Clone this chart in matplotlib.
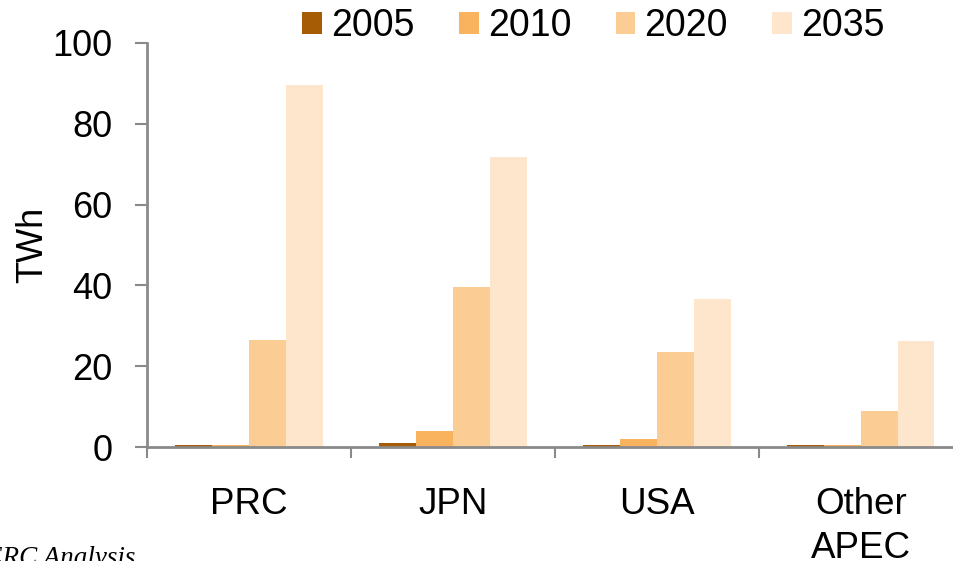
import numpy as np
import matplotlib.pyplot as plt

# data
regions = ["PRC", "JPN", "USA", "Other\nAPEC"]
years = ["2005", "2010", "2020", "2035"]
twh_2005 = [0.5, 1.0, 0.5, 0.5]
twh_2010 = [0.4, 4.0, 2.0, 0.4]
twh_2020 = [26.5, 39.6, 23.5, 8.9]
twh_2035 = [89.6, 71.8, 36.6, 26.2]
colors = ["#A65C05", "#F9B25E", "#FBCD94", "#FDE6CC"]

plt.rcParams['font.family'] = ['Liberation Sans', 'DejaVu Sans']
grey = "#8a8a8a"

fig = plt.figure(figsize=(9.54, 5.61), dpi=100)
ax = fig.add_axes([0.154, 0.2032, 0.855, 0.7202])

x = np.arange(len(regions))
w = 0.181
series = [twh_2005, twh_2010, twh_2020, twh_2035]
for i, (vals, col, yr) in enumerate(zip(series, colors, years)):
    ax.bar(x + (i - 1.5) * w, vals, width=w, color=col, label=yr, zorder=2)

ax.set_xlim(-0.5, 3.5)
ax.set_ylim(0, 100)
ax.set_yticks(range(0, 101, 20))
ax.tick_params(axis='y', labelsize=26, length=8.6, width=1.5, color=grey, pad=16)

# category labels at centres, tick marks at boundaries
ax.set_xticks(x)
ax.set_xticklabels(regions, fontsize=26.5, linespacing=1.33)
ax.tick_params(axis='x', which='major', length=0, pad=29)
ax.set_xticks(np.arange(-0.5, 3.5, 1.0), minor=True)
ax.tick_params(axis='x', which='minor', length=8, width=1.5, color=grey)

for s in ['top', 'right']:
    ax.spines[s].set_visible(False)
for s in ['left', 'bottom']:
    ax.spines[s].set_color(grey)
    ax.spines[s].set_linewidth(2)
    ax.spines[s].set_zorder(3)

ax.set_ylabel("TWh", fontsize=26, labelpad=2)

fig.legend(loc='center', bbox_to_anchor=(0.622, 0.953), ncol=4, frameon=False,
           prop={'size': 27}, borderpad=0,
           handlelength=0.53, handleheight=0.53, handletextpad=0.24, columnspacing=1.18)

fig.text(135 / 954, -0.008, "Source: APERC Analysis", ha='right', va='baseline',
         fontsize=19.5, style='italic', family=['Liberation Serif', 'DejaVu Serif'])

plt.savefig("out.png", dpi=100)
